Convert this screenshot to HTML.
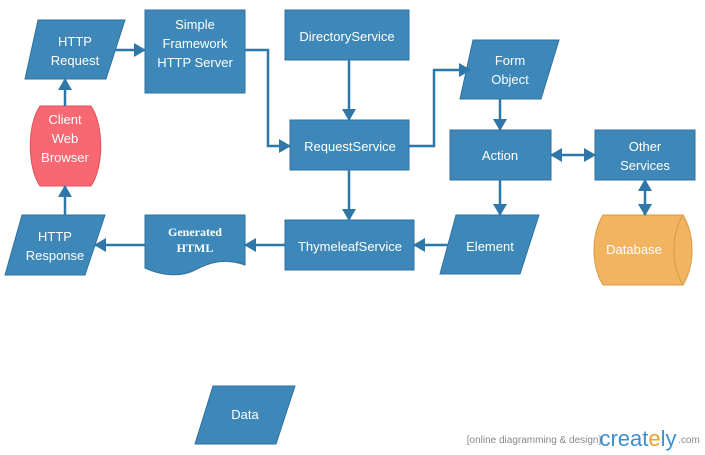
<!DOCTYPE html>
<html><head><meta charset="utf-8"><style>
html,body{margin:0;padding:0;background:#fff;width:705px;height:455px;overflow:hidden}
text{font-family:"Liberation Sans",sans-serif;fill:#fff;font-size:13px;text-anchor:middle}
</style></head><body>
<svg width="705" height="455" viewBox="0 0 705 455" xmlns="http://www.w3.org/2000/svg">
<defs>
<marker id="a" markerWidth="12" markerHeight="14" refX="11" refY="7" orient="auto" markerUnits="userSpaceOnUse">
<path d="M0,0 L12,7 L0,14 Z" fill="#2f77a8"/></marker>
<marker id="s" markerWidth="12" markerHeight="14" refX="1" refY="7" orient="auto" markerUnits="userSpaceOnUse">
<path d="M12,0 L0,7 L12,14 Z" fill="#2f77a8"/></marker>
</defs>
<g fill="#3d88b8" stroke="#2f71a0" stroke-width="1">
<polygon points="38,20 125,20 106,79 25,79"/>
<rect x="145" y="10" width="100" height="83"/>
<rect x="285" y="10" width="124" height="50"/>
<rect x="290" y="120" width="119" height="50"/>
<rect x="285" y="220" width="129" height="50"/>
<path d="M145,215 L245,215 L245,265 C225,258 210,262 195,270 C180,278 160,275 145,268 Z"/>
<polygon points="22,215 105,215 85,275 5,275"/>
<polygon points="473,40 559,40 541,99 460,99"/>
<rect x="450" y="130" width="101" height="50"/>
<rect x="595" y="130" width="100" height="50"/>
<polygon points="456,215 539,215 520,274 440,274"/>
<polygon points="213,386 295,386 276,444 195,444"/>
</g>
<path d="M40,106 L91,106 C104,125 104,167 91,186 L40,186 C27,167 27,125 40,106 Z" fill="#f86872" stroke="#e5505c"/>
<path d="M603,215 L683,215 C695,235 695,265 683,285 L603,285 C591,265 591,235 603,215 Z" fill="#f2b460" stroke="#d99a42"/>
<path d="M683,215 C671,235 671,265 683,285" fill="none" stroke="#d99a42"/>
<g stroke="#2f77a8" stroke-width="2.5" fill="none">
<path d="M115,50 L145,50" marker-end="url(#a)"/>
<path d="M245,50 L268,50 L268,146 L290,146" marker-end="url(#a)"/>
<path d="M349,60 L349,120" marker-end="url(#a)"/>
<path d="M349,170 L349,220" marker-end="url(#a)"/>
<path d="M285,245 L245,245" marker-end="url(#a)"/>
<path d="M145,245 L95,245" marker-end="url(#a)"/>
<path d="M65,215 L65,186" marker-end="url(#a)"/>
<path d="M65,106 L65,79" marker-end="url(#a)"/>
<path d="M409,146 L434,146 L434,70 L470,70" marker-end="url(#a)"/>
<path d="M500,99 L500,130" marker-end="url(#a)"/>
<path d="M500,180 L500,215" marker-end="url(#a)"/>
<path d="M448,245 L414,245" marker-end="url(#a)"/>
<path d="M551,155 L595,155" marker-start="url(#s)" marker-end="url(#a)"/>
<path d="M645,180 L645,215" marker-start="url(#s)" marker-end="url(#a)"/>
</g>
<text x="75" y="46">HTTP</text><text x="75" y="65">Request</text>
<text x="195" y="29">Simple</text><text x="195" y="48">Framework</text><text x="195" y="67">HTTP Server</text>
<text x="347" y="41">DirectoryService</text>
<text x="350" y="151">RequestService</text>
<text x="350" y="251">ThymeleafService</text>
<text x="195" y="236" style="font-family:'Liberation Serif',serif;font-size:12px;font-weight:bold">Generated</text>
<text x="195" y="252" style="font-family:'Liberation Serif',serif;font-size:12px;font-weight:bold">HTML</text>
<text x="55" y="241">HTTP</text><text x="55" y="260">Response</text>
<text x="65" y="124">Client</text><text x="65" y="143">Web</text><text x="65" y="162">Browser</text>
<text x="510" y="65">Form</text><text x="510" y="84">Object</text>
<text x="500" y="160">Action</text>
<text x="645" y="151">Other</text><text x="645" y="170">Services</text>
<text x="490" y="251">Element</text>
<text x="634" y="254">Database</text>
<text x="245" y="419">Data</text>
<text x="534" y="443" style="fill:#888;font-size:10px">[online diagramming &amp; design]</text>
<text x="638" y="446" style="fill:#3d8fd0;font-size:22px">creat<tspan fill="#f0a030">e</tspan>ly</text>
<text x="689" y="443" style="fill:#888;font-size:10px">.com</text>
</svg>
</body></html>
